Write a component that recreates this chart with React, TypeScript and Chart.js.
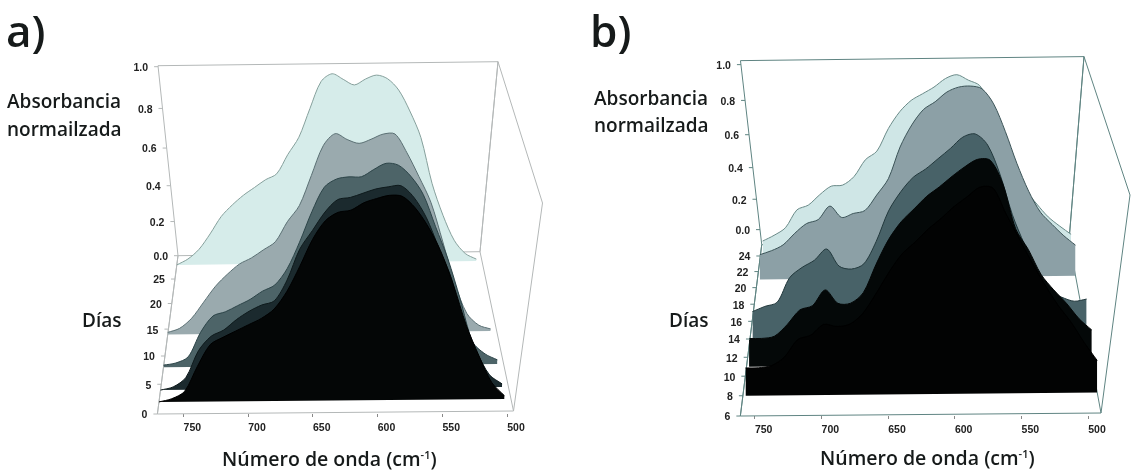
import React, { useEffect, useRef } from "react";
import { Chart, registerables } from "chart.js";

Chart.register(...registerables);

// ---------- data ----------
const WN_A = [770,760,750,740,730,720,710,700,690,680,670,660,650,640,630,620,610,600,590,580,570,560,550,540,530,520,510,500];
const WN_B = [760,750,740,730,720,710,700,690,680,670,660,650,640,630,620,610,600,590,580,570,560,550,540,530,520,510,500,490];

const ABS_A_D2 = [0,.015,.05,.17,.275,.31,.34,.37,.40,.445,.53,.65,.78,.87,.91,.92,.955,.975,.99,.985,.93,.84,.72,.555,.36,.21,.08,.015];
const ABS_A_D4 = [0,.015,.06,.19,.26,.29,.34,.38,.41,.43,.53,.68,.77,.86,.92,.93,.95,.97,.98,.985,.93,.83,.68,.53,.29,.17,.06,.015];
const ABS_A_D8 = [.01,.02,.05,.17,.25,.27,.30,.33,.37,.40,.48,.61,.76,.88,.92,.93,.93,.965,.995,.985,.93,.84,.68,.52,.32,.11,.05,.02];
const ABS_A_D14 = [.01,.03,.08,.16,.24,.30,.35,.38,.42,.46,.56,.64,.79,.94,1,.97,.95,.97,.995,.995,.90,.78,.65,.45,.24,.09,.03,.01];
const ABS_A_D28 = [0,.03,.08,.16,.25,.31,.36,.40,.44,.47,.57,.66,.81,.95,.99,.96,.93,.96,.98,.96,.90,.79,.65,.41,.24,.11,.04,.01];

const ABS_B_D8 = [.13,.13,.14,.18,.26,.28,.33,.32,.33,.38,.47,.57,.655,.71,.77,.82,.875,.92,.965,.96,.84,.725,.61,.505,.41,.33,.235,.15];
const ABS_B_D11 = [.135,.135,.145,.20,.27,.29,.365,.30,.30,.35,.485,.605,.69,.75,.81,.855,.905,.95,.985,.98,.865,.65,.55,.43,.355,.29,.215,.16];
const ABS_B_D14 = [.135,.16,.18,.30,.35,.385,.44,.355,.34,.365,.475,.625,.72,.79,.83,.88,.93,.985,1,.945,.80,.60,.45,.32,.22,.19,.17,.18];
const ABS_B_D21 = [.13,.15,.18,.24,.29,.31,.38,.32,.34,.355,.435,.52,.685,.80,.88,.92,.97,.995,1,.985,.905,.76,.59,.445,.335,.27,.21,.16];
const ABS_B_D24 = [.08,.11,.15,.245,.27,.325,.37,.375,.42,.51,.555,.675,.765,.825,.86,.895,.94,.96,.93,.90,.79,.64,.485,.34,.26,.19,.14,.095];

const DAYS_A = [2, 4, 8, 14, 28];
const DAYS_B = [8, 11, 14, 21, 24];
const SERIES_A = [ABS_A_D2, ABS_A_D4, ABS_A_D8, ABS_A_D14, ABS_A_D28];
const SERIES_B = [ABS_B_D8, ABS_B_D11, ABS_B_D14, ABS_B_D21, ABS_B_D24];

const FILL_A = ["#040606", "#1b2a2e", "#4d6468", "#9aaaae", "#d6ecea"];
const LINE_A = ["#000000", "#0e1a1c", "#2c4448", "#5b7074", "#86a09c"];
const FILL_B = ["#020303", "#040808", "#486268", "#8ca0a6", "#cfe6e6"];
const LINE_B = ["#000000", "#030606", "#22383c", "#3c5458", "#6a8a88"];

const X_TICKS = [750, 700, 650, 600, 550, 500];
const ABS_TICKS = [1, 0.8, 0.6, 0.4, 0.2, 0];
const DAY_TICKS_A = [0, 5, 10, 15, 20, 25];
const DAY_TICKS_B = [6, 8, 10, 12, 14, 16, 18, 20, 22, 24];

// ---------- projection set-up of each 3-D box ----------
const PANEL_A = {
  pageLeft: 0, canvasW: 565, axisY: 414,
  axisL: 157.4, axisR: 513.5, axisHi: 770, axisLo: 495,
  wStart: 770, wEnd: 495, frameL: 770, frameR: 495,
  day0: 0, dayMax: 30, dropA: 6.1, dropB: 0.0052,
  xl: [157.4, 178], xr: [513.5, 480], h: [208, 190], tilt: [3, 4],
  leanL: 20, leanR: [29, 18],
  wallLift: 0, wallSpan: 189, wallB: 0.118,
  frameColor: "#b4b8b8", labelOffset: 9,
  wn: WN_A, series: SERIES_A, days: DAYS_A, fills: FILL_A, lines: LINE_A, dayTicks: DAY_TICKS_A,
};
const PANEL_B = {
  pageLeft: 565, canvasW: 566, axisY: 416,
  axisL: 740, axisR: 1100, axisHi: 761, axisLo: 491,
  wStart: 760, wEnd: 490, frameL: 762, frameR: 490,
  day0: 6, dayMax: 25.5, dropA: 10.31, dropB: 0.00887,
  xl: [743, 764], xr: [1101, 1069], h: [218, 184], tilt: [3, 4],
  leanL: 21, leanR: [29, 15],
  wallLift: 15, wallSpan: 165, wallB: 0.097,
  frameColor: "#5f8482", labelOffset: 9,
  wn: WN_B, series: SERIES_B, days: DAYS_B, fills: FILL_B, lines: LINE_B, dayTicks: DAY_TICKS_B,
};

type Panel = typeof PANEL_A;

function dropOf(c: Panel, day: number) {
  const d = day - c.day0;
  return (c.dropA * d) / (1 + c.dropB * d);
}
const mix = (r: number[], t: number) => r[0] + (r[1] - r[0]) * t;

function projectPx(c: Panel, wn: number, day: number, abs: number, lean = false) {
  const u = (c.wStart - wn) / (c.wStart - c.wEnd);
  const drop = dropOf(c, day);
  const p = drop / dropOf(c, c.dayMax);
  let x = mix(c.xl, p) + u * (mix(c.xr, p) - mix(c.xl, p));
  if (lean) x += abs * (u * mix(c.leanR, p) - (1 - u) * c.leanL);
  return { x, y: drop + u * mix(c.tilt, p) + abs * mix(c.h, p) };
}
function project(c: Panel, wn: number, day: number, abs: number, lean = false) {
  const q = projectPx(c, wn, day, abs, lean);
  return { x: c.axisHi - ((q.x - c.axisL) / (c.axisR - c.axisL)) * (c.axisHi - c.axisLo), y: q.y };
}

function buildDatasets(c: Panel) {
  const out: any[] = [];
  c.series.forEach((vals, i) => {
    out.push({
      data: vals.map((v, k) => project(c, c.wn[k], c.days[i], v)),
      borderColor: c.lines[i], backgroundColor: c.fills[i], borderWidth: 1,
      pointRadius: 0, tension: 0.3, fill: "+1",
    });
    out.push({
      data: [project(c, c.wn[0], c.days[i], 0), project(c, c.wn[c.wn.length - 1], c.days[i], 0)],
      borderColor: "transparent", borderWidth: 0, pointRadius: 0, tension: 0, fill: false,
    });
  });
  const L = c.frameL, R = c.frameR, B = c.dayMax, F = c.day0;
  const framePath = [
    [L, F, 0], [R, F, 0], [R, B, 0], [R, B, 1], [L, B, 1], [L, B, 0], [L, F, 0], [L, B, 0], [R, B, 0], [R, B, 1], [R, F, 1], [R, F, 0],
  ];
  out.push({
    data: framePath.map(([w, d, v]) => project(c, w, d, v, true)),
    borderColor: c.frameColor, borderWidth: 1, pointRadius: 0, tension: 0, fill: false,
  });
  return out;
}

const TICK_FONT = 'bold 10.5px "Liberation Sans"';

function wallLabels(c: Panel) {
  return {
    id: "wallLabels",
    afterDatasetsDraw(chart: any) {
      const { ctx, scales } = chart;
      const toPx = (q: { x: number; y: number }) => ({ x: scales.x.getPixelForValue(q.x), y: scales.y.getPixelForValue(q.y) });
      ctx.save();
      ctx.font = TICK_FONT;
      ctx.fillStyle = "#222";
      ctx.strokeStyle = c.frameColor;
      ctx.textAlign = "right";
      ctx.textBaseline = "middle";
      const mark = (x: number, y: number, txt: string) => {
        ctx.beginPath(); ctx.moveTo(x - 4, y); ctx.lineTo(x, y); ctx.stroke();
        ctx.fillText(txt, x - 10, y + 1.5);
      };
      const foot = toPx(project(c, c.frameL, c.dayMax, 0, true));
      const head = toPx(project(c, c.frameL, c.dayMax, 1, true));
      ABS_TICKS.forEach((v) => {
        const f = (v * (1 - c.wallB)) / (1 - c.wallB * v);
        const y = foot.y - c.wallLift - c.wallSpan * f;
        const x = foot.x + ((head.x - foot.x) * (foot.y - y)) / (foot.y - head.y);
        mark(x, y, v.toFixed(1));
      });
      c.dayTicks.forEach((d) => {
        const q = toPx(project(c, c.frameL, d, 0, true));
        mark(q.x, q.y, String(d));
      });
      ctx.restore();
    },
  };
}

function Panel3D({ c }: { c: Panel }) {
  const ref = useRef<HTMLCanvasElement>(null);
  useEffect(() => {
    const chart = new Chart(ref.current!, {
      type: "line",
      data: { datasets: buildDatasets(c) },
      plugins: [wallLabels(c)],
      options: {
        animation: false,
        responsive: false,
        layout: { padding: { left: c.axisL - c.pageLeft, right: c.pageLeft + c.canvasW - c.axisR, top: 0, bottom: 0 } },
        plugins: { legend: { display: false }, tooltip: { enabled: false }, title: { display: false } },
        datasets: { line: { clip: false } },
        scales: {
          x: {
            type: "linear", reverse: true, min: c.axisLo, max: c.axisHi,
            afterBuildTicks: (s: any) => { s.ticks = X_TICKS.map((value) => ({ value })); },
            afterFit: (s: any) => { s.height = 471 - c.axisY; },
            border: { display: false },
            grid: { drawOnChartArea: false, drawTicks: true, tickLength: 3, tickColor: "#888" },
            ticks: {
              autoSkip: false, maxRotation: 0, minRotation: 0, padding: 5, labelOffset: c.labelOffset,
              color: "#222", font: { family: "Liberation Sans", weight: "bold", size: 10.5 },
              callback: (v: any) => String(v),
            },
          },
          y: { type: "linear", display: false, min: 0, max: c.axisY },
        },
      } as any,
    });
    return () => chart.destroy();
  }, [c]);
  return (
    <canvas
      ref={ref}
      width={c.canvasW}
      height={471}
      style={{ position: "absolute", left: c.pageLeft, top: 0, width: c.canvasW, height: 471 }}
    />
  );
}

const FONT = '"Open Sans", sans-serif';
function Label({ x, y, size, children }: { x: number; y: number; size: number; children: React.ReactNode }) {
  return (
    <div
      style={{
        position: "absolute", left: x, top: y - size * 0.5 - 1, fontFamily: FONT, fontWeight: 600,
        fontSize: size, lineHeight: `${size + 2}px`, color: "#161a1a", whiteSpace: "nowrap",
      }}
    >
      {children}
    </div>
  );
}

export default function App() {
  return (
    <div style={{ position: "absolute", left: 0, top: 0, width: 1131, height: 471, background: "#fff", overflow: "hidden" }}>
      <Panel3D c={PANEL_A} />
      <Panel3D c={PANEL_B as any} />
      <Label x={6} y={30} size={44}>a)</Label>
      <Label x={590} y={30} size={44}>b)</Label>
      <Label x={7} y={101} size={19}>Absorbancia</Label>
      <Label x={7} y={129} size={19}>normailzada</Label>
      <Label x={594} y={98} size={19}>Absorbancia</Label>
      <Label x={594} y={125} size={19}>normailzada</Label>
      <Label x={82} y={320} size={19}>Días</Label>
      <Label x={669} y={320} size={19}>Días</Label>
      <Label x={222} y={459} size={19.5}>Número de onda (cm<sup style={{ fontSize: 11, lineHeight: 0 }}>-1</sup>)</Label>
      <Label x={820} y={458} size={19.5}>Número de onda (cm<sup style={{ fontSize: 11, lineHeight: 0 }}>-1</sup>)</Label>
    </div>
  );
}
